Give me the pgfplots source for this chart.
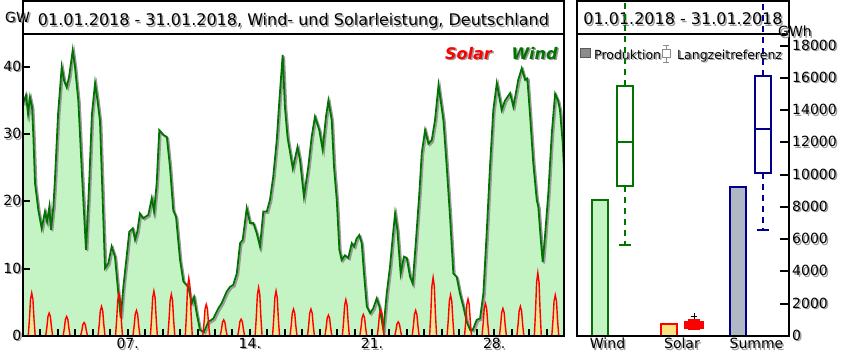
\documentclass[border=0pt]{standalone}
\usepackage{fontspec}
\setmainfont{DejaVu Sans}
\usepackage{pgfplots}
\usepackage{pgfplotstable}
\pgfplotsset{compat=1.18}
\definecolor{windline}{RGB}{0,115,0}
\definecolor{windfill}{RGB}{196,244,196}
\definecolor{solarfill}{RGB}{236,232,150}
\definecolor{solarbar}{RGB}{252,228,130}
\definecolor{summebar}{RGB}{176,184,196}
\definecolor{navy}{RGB}{0,0,140}
\newcommand\sh[1]{\leavevmode\rlap{\kern1.5pt\raisebox{-1.5pt}{\textcolor{black!40}{#1}}}#1}

\pgfplotstableread[row sep=\\]{
x y\\
0 34.5\\ 0.17 35.8\\ 0.29 33\\ 0.40 35.5\\ 0.52 34\\ 0.59 30\\ 0.69 22.7\\ 0.88 18.7\\
1.07 16\\ 1.26 18.5\\ 1.38 17\\ 1.51 19.2\\ 1.60 15.8\\ 1.74 19.2\\ 1.83 23.2\\
2.01 33\\ 2.22 40\\ 2.35 38\\ 2.50 37\\ 2.64 38.5\\ 2.85 42.5\\ 2.98 40\\
3.17 35\\ 3.38 24\\ 3.61 12.8\\ 3.78 22\\ 3.95 33\\ 4.13 37.6\\ 4.27 35\\ 4.41 32\\
4.60 17.7\\ 4.70 10.1\\ 4.89 10.8\\ 5.08 13.3\\ 5.27 11.8\\ 5.46 6.4\\ 5.60 2.7\\ 5.75 7.3\\
5.94 11.8\\ 6.09 15.5\\ 6.29 16\\ 6.42 14.3\\ 6.55 15.5\\ 6.70 18.2\\ 6.89 17.5\\ 7.18 18\\
7.38 20.5\\ 7.51 18.5\\ 7.66 22.7\\ 7.81 30.6\\ 8.04 29.9\\ 8.24 29.6\\ 8.42 25.2\\ 8.61 18.7\\
8.77 17.7\\ 9.00 11.3\\ 9.19 8.1\\ 9.47 7.3\\ 9.67 4.9\\ 9.80 5.8\\ 9.95 3.4\\ 10.14 0.9\\
10.37 0.6\\ 10.62 2.1\\ 10.91 2.6\\ 11.19 4.1\\ 11.39 4.9\\ 11.67 6.6\\ 11.86 7.3\\ 12.05 7.6\\
12.25 9.3\\ 12.44 13.8\\ 12.59 14.3\\ 12.82 19\\ 13.01 16.8\\ 13.20 16.8\\ 13.39 15.3\\ 13.58 13.3\\
13.77 18.5\\ 13.97 18.5\\ 14.15 20.2\\ 14.34 23.7\\ 14.54 29.1\\ 14.69 35\\ 14.88 41.8\\ 15.01 34\\
15.16 29.5\\ 15.46 24.9\\ 15.73 28.1\\ 15.87 26.2\\ 16.10 20.7\\ 16.35 25.2\\ 16.54 29.6\\ 16.73 32.6\\
16.98 30.6\\ 17.17 27.7\\ 17.36 32.6\\ 17.50 35\\ 17.69 32.1\\ 17.82 25.2\\ 17.98 20.2\\ 18.13 12.8\\
18.26 11.3\\ 18.45 12\\ 18.64 11.6\\ 18.84 13.8\\ 18.97 13.3\\ 19.12 14.5\\ 19.27 15\\ 19.41 13.8\\
19.54 9.3\\ 19.70 4.4\\ 19.89 3.4\\ 20.07 4.1\\ 20.27 5.6\\ 20.42 4.4\\ 20.65 0.9\\ 20.84 6.3\\
21.03 10.3\\ 21.19 14.8\\ 21.32 18.2\\ 21.45 15.8\\ 21.64 9.3\\ 21.83 11.8\\ 21.99 11.6\\ 22.18 8.8\\
22.33 7.8\\ 22.52 14.3\\ 22.71 21.2\\ 22.85 27.2\\ 23.04 30.6\\ 23.23 28.6\\ 23.42 29.1\\ 23.61 32.1\\
23.81 37.3\\ 24.09 32.1\\ 24.28 25.2\\ 24.47 17.7\\ 24.66 9.3\\ 24.85 8.8\\ 25.04 6.3\\ 25.23 4.4\\
25.43 2.1\\ 25.62 0.9\\ 25.77 0.9\\ 26.00 2.4\\ 26.19 2.6\\ 26.38 6.3\\ 26.57 15.3\\ 26.76 25.2\\
26.95 33.6\\ 27.15 37.6\\ 27.43 33.6\\ 27.62 35\\ 27.91 36.1\\ 28.10 34.1\\ 28.38 38.1\\ 28.58 39.8\\
28.77 38.1\\ 28.90 38.3\\ 29.05 33\\ 29.24 25.7\\ 29.44 20.2\\ 29.53 19.2\\ 29.67 14.3\\ 29.78 11\\
29.91 14.8\\ 30.10 21.2\\ 30.30 30.1\\ 30.49 36\\ 30.66 35\\ 30.77 33.6\\ 30.93 28.6\\ 31.00 24.7\\
}\wind

\pgfplotstableread[row sep=\\]{
x y\\
0 0\\
0.30 0\\ 0.37 2.56\\ 0.43 5.44\\ 0.5 6.4\\ 0.57 5.44\\ 0.63 2.56\\ 0.70 0\\
1.30 0\\ 1.37 1.36\\ 1.43 2.89\\ 1.5 3.4\\ 1.57 2.89\\ 1.63 1.36\\ 1.70 0\\
2.30 0\\ 2.37 1.16\\ 2.43 2.47\\ 2.5 2.9\\ 2.57 2.47\\ 2.63 1.16\\ 2.70 0\\
3.30 0\\ 3.37 .8\\ 3.43 1.7\\ 3.5 2\\ 3.57 1.7\\ 3.63 .8\\ 3.70 0\\
4.30 0\\ 4.37 1.76\\ 4.43 3.74\\ 4.5 4.4\\ 4.57 3.74\\ 4.63 1.76\\ 4.70 0\\
5.30 0\\ 5.37 2.52\\ 5.43 5.36\\ 5.5 6.3\\ 5.57 5.36\\ 5.63 2.52\\ 5.70 0\\
6.30 0\\ 6.37 1.52\\ 6.43 3.23\\ 6.5 3.8\\ 6.57 3.23\\ 6.63 1.52\\ 6.70 0\\
7.30 0\\ 7.37 2.68\\ 7.43 5.7\\ 7.5 6.7\\ 7.57 5.7\\ 7.63 2.68\\ 7.70 0\\
8.30 0\\ 8.37 2.48\\ 8.43 5.27\\ 8.5 6.2\\ 8.57 5.27\\ 8.63 2.48\\ 8.70 0\\
9.30 0\\ 9.37 3.44\\ 9.43 7.31\\ 9.5 8.6\\ 9.57 7.31\\ 9.63 3.44\\ 9.70 0\\
10.30 0\\ 10.37 1.88\\ 10.43 4\\ 10.5 4.7\\ 10.57 4\\ 10.63 1.88\\ 10.70 0\\
11.30 0\\ 11.37 .96\\ 11.43 2.04\\ 11.5 2.4\\ 11.57 2.04\\ 11.63 .96\\ 11.70 0\\
12.30 0\\ 12.37 1\\ 12.43 2.13\\ 12.5 2.5\\ 12.57 2.13\\ 12.63 1\\ 12.70 0\\
13.30 0\\ 13.37 2.88\\ 13.43 6.12\\ 13.5 7.2\\ 13.57 6.12\\ 13.63 2.88\\ 13.70 0\\
14.30 0\\ 14.37 2.68\\ 14.43 5.7\\ 14.5 6.7\\ 14.57 5.7\\ 14.63 2.68\\ 14.70 0\\
15.30 0\\ 15.37 1.6\\ 15.43 3.4\\ 15.5 4\\ 15.57 3.4\\ 15.63 1.6\\ 15.70 0\\
16.30 0\\ 16.37 1.6\\ 16.43 3.4\\ 16.5 4\\ 16.57 3.4\\ 16.63 1.6\\ 16.70 0\\
17.30 0\\ 17.37 1.24\\ 17.43 2.64\\ 17.5 3.1\\ 17.57 2.64\\ 17.63 1.24\\ 17.70 0\\
18.30 0\\ 18.37 2.16\\ 18.43 4.59\\ 18.5 5.4\\ 18.57 4.59\\ 18.63 2.16\\ 18.70 0\\
19.30 0\\ 19.37 1.28\\ 19.43 2.72\\ 19.5 3.2\\ 19.57 2.72\\ 19.63 1.28\\ 19.70 0\\
20.30 0\\ 20.37 1.56\\ 20.43 3.32\\ 20.5 3.9\\ 20.57 3.32\\ 20.63 1.56\\ 20.70 0\\
21.30 0\\ 21.37 .84\\ 21.43 1.79\\ 21.5 2.1\\ 21.57 1.79\\ 21.63 .84\\ 21.70 0\\
22.30 0\\ 22.37 1.52\\ 22.43 3.23\\ 22.5 3.8\\ 22.57 3.23\\ 22.63 1.52\\ 22.70 0\\
23.30 0\\ 23.37 3.48\\ 23.43 7.4\\ 23.5 8.7\\ 23.57 7.4\\ 23.63 3.48\\ 23.70 0\\
24.30 0\\ 24.37 2.44\\ 24.43 5.19\\ 24.5 6.1\\ 24.57 5.19\\ 24.63 2.44\\ 24.70 0\\
25.30 0\\ 25.37 2.2\\ 25.43 4.68\\ 25.5 5.5\\ 25.57 4.68\\ 25.63 2.2\\ 25.70 0\\
26.30 0\\ 26.37 1.92\\ 26.43 4.08\\ 26.5 4.8\\ 26.57 4.08\\ 26.63 1.92\\ 26.70 0\\
27.30 0\\ 27.37 1.64\\ 27.43 3.49\\ 27.5 4.1\\ 27.57 3.49\\ 27.63 1.64\\ 27.70 0\\
28.30 0\\ 28.37 1.76\\ 28.43 3.74\\ 28.5 4.4\\ 28.57 3.74\\ 28.63 1.76\\ 28.70 0\\
29.30 0\\ 29.37 3.76\\ 29.43 7.99\\ 29.5 9.4\\ 29.57 7.99\\ 29.63 3.76\\ 29.70 0\\
30.30 0\\ 30.37 2.44\\ 30.43 5.19\\ 30.5 6.1\\ 30.57 5.19\\ 30.63 2.44\\ 30.70 0\\
31 0\\
}\solar

\begin{document}
\begin{tikzpicture}
\useasboundingbox (0pt,0pt) rectangle (845pt,357pt);

% title bands
\draw[line width=2pt] (23pt,323pt) -- (564pt,323pt);
\draw[line width=2pt] (577pt,322.5pt) -- (789pt,322.5pt);
\node[anchor=base, inner sep=0, font=\fontsize{16}{19}\selectfont] at (293.5pt,331pt) {\sh{01.01.2018 - 31.01.2018, Wind- und Solarleistung, Deutschland}};
\node[anchor=base, inner sep=0, font=\fontsize{16}{19}\selectfont] at (683pt,332pt) {\sh{01.01.2018 - 31.01.2018}};

% left legend
\node[anchor=base, inner sep=0, font=\fontsize{16}{19}\selectfont\bfseries\itshape, text=red] at (468.5pt,298pt) {\sh{Solar}};
\node[anchor=base, inner sep=0, font=\fontsize{16}{19}\selectfont\bfseries\itshape, text=windline] at (534.5pt,298pt) {\sh{Wind}};

% right legend
\draw[black!65, fill=black!45, line width=1pt] (580.5pt,299.5pt) rectangle (590.5pt,308.5pt);
\node[anchor=base west, inner sep=0, font=\fontsize{12.5}{15}\selectfont] at (594pt,298pt) {\sh{Produktion}};
\draw[black!45, line width=0.8pt] (666pt,295pt) -- (666pt,312pt);
\draw[black!45, line width=0.8pt] (663pt,312pt) -- (669pt,312pt);
\draw[black!45, line width=0.8pt] (663pt,295pt) -- (669pt,295pt);
\draw[black!45, fill=white, line width=0.8pt] (662pt,300pt) rectangle (670pt,307.5pt);
\node[anchor=base west, inner sep=0, font=\fontsize{12.5}{15}\selectfont] at (677pt,298pt) {\sh{Langzeitreferenz}};

\begin{axis}[at={(23pt,21pt)}, anchor=south west, scale only axis,
  width=541pt, height=335pt,
  xmin=0, xmax=31, ymin=0, ymax=49.81,
  axis on top, axis line style={line width=2pt},
  every tick/.style={black, line width=2pt},
  tick align=inside, major tick length=7pt,
  xtick={6,13,20,27}, xticklabels={\sh{07.},\sh{14.},\sh{21.},\sh{28.}},
  extra x ticks={0,1,2,3,4,5,7,8,9,10,11,12,14,15,16,17,18,19,21,22,23,24,25,26,28,29,30,31},
  extra x tick labels={},
  ytick={0,10,20,30,40}, yticklabel={\sh{\pgfmathprintnumber{\tick}}},
  xtick pos=bottom, ytick pos=left,
  tick label style={font=\fontsize{14}{16}\selectfont},
  yticklabel style={inner xsep=1.5pt},
  xticklabel style={inner ysep=2pt},
  /pgf/number format/assume math mode=true]
\addplot[draw=none, fill=windfill] table {\wind} \closedcycle;
\addplot[draw=none, fill=solarfill] table {\solar} \closedcycle;
\addplot[black!40, line width=1.8pt, xshift=1.5pt, yshift=-1.5pt] table {\wind};
\addplot[windline, line width=1.8pt] table {\wind};
\addplot[red, line width=1.4pt] table {\solar};
\end{axis}

\begin{axis}[at={(577pt,21pt)}, anchor=south west, scale only axis,
  width=212pt, height=335pt,
  xmin=-0.3333, xmax=2.739, ymin=0, ymax=20769,
  axis on top, axis line style={line width=2pt},
  every tick/.style={black, line width=2pt},
  tick align=inside, major tick length=9pt,
  xtick={0.109,1.188,2.268}, xticklabels={\sh{Wind},\sh{Solar},\sh{Summe}},
  xtick style={draw=none},
  ytick={0,2000,...,18000},
  yticklabel={\sh{\pgfmathprintnumber[fixed,precision=0,1000 sep={}]{\tick}}},
  yticklabel pos=right, ytick pos=right, scaled y ticks=false,
  tick label style={font=\fontsize{14}{16}\selectfont},
  yticklabel style={inner xsep=3pt},
  xticklabel style={inner ysep=2pt},
  /pgf/number format/assume math mode=true]
% production bars
\addplot[ybar, bar width=16.6pt, bar shift=0pt, fill=windfill, draw=windline, line width=2pt] coordinates {(0,8460)};
\addplot[ybar, bar width=16.6pt, bar shift=0pt, fill=solarbar, draw=red, line width=2pt] coordinates {(1,760)};
\addplot[ybar, bar width=16.6pt, bar shift=0pt, fill=summebar, draw=navy, line width=2pt] coordinates {(2,9220)};
% wind reference box
\addplot[windline, line width=2pt, dash pattern=on 6pt off 5pt] coordinates {(0.3623,15500) (0.3623,25000)};
\addplot[windline, line width=2pt, dash pattern=on 6pt off 5pt] coordinates {(0.3623,9300) (0.3623,5640)};
\addplot[windline, line width=2pt] coordinates {(0.2823,5640) (0.4423,5640)};
\addplot[windline, line width=2pt, fill=white] coordinates {(0.2413,9300) (0.4833,9300) (0.4833,15500) (0.2413,15500)} -- cycle;
\addplot[windline, line width=2pt] coordinates {(0.2413,12050) (0.4833,12050)};
% solar reference box
\addplot[red, line width=2.5pt] coordinates {(1.3623,420) (1.3623,990)};
\addplot[red, line width=2.5pt] coordinates {(1.2773,990) (1.4473,990)};
\addplot[red, line width=2.5pt] coordinates {(1.2773,420) (1.4473,420)};
\addplot[red, line width=2.5pt, fill=red] coordinates {(1.2413,540) (1.4833,540) (1.4833,860) (1.2413,860)} -- cycle;
\addplot[only marks, mark=+, mark size=3pt, black, line width=1pt] coordinates {(1.3623,1230)};
% summe reference box
\addplot[navy, line width=2pt, dash pattern=on 6pt off 5pt] coordinates {(2.3623,16120) (2.3623,25000)};
\addplot[navy, line width=2pt, dash pattern=on 6pt off 5pt] coordinates {(2.3623,10120) (2.3623,6570)};
\addplot[navy, line width=2pt] coordinates {(2.2823,6570) (2.4423,6570)};
\addplot[navy, line width=2pt, fill=white] coordinates {(2.2413,10120) (2.4833,10120) (2.4833,16120) (2.2413,16120)} -- cycle;
\addplot[navy, line width=2pt] coordinates {(2.2413,12810) (2.4833,12810)};
\end{axis}

\node[anchor=base, inner sep=0, font=\fontsize{14}{16}\selectfont] at (17.5pt,334.5pt) {\sh{GW}};
\node[anchor=base, inner sep=0, font=\fontsize{14}{16}\selectfont] at (795pt,320.5pt) {\sh{GWh}};
\end{tikzpicture}
\end{document}
